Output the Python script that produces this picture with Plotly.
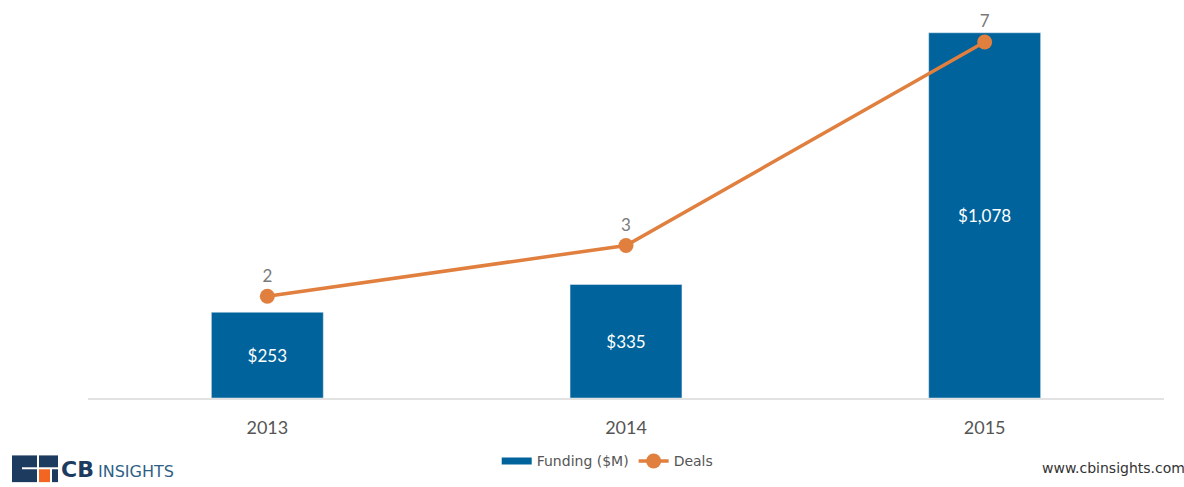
import plotly.graph_objects as go

# Chart data
years = ["2013", "2014", "2015"]
funding = [253, 335, 1078]          # $M
deals = [2, 3, 7]
funding_labels = ["$253", "$335", "$1,078"]

BLUE = "#00639b"
ORANGE = "#e07f3e"
W, H = 1184, 487
ML, MR, MT, MB = 88, 20, 10, 85
PW, PH = W - ML - MR, H - MT - MB


def px(x):
    return (x - ML) / PW


def py(y):
    return (H - y - MB) / PH


fig = go.Figure()

fig.add_trace(go.Bar(
    x=years, y=funding, name="Funding ($M)", marker_color=BLUE,
    text=funding_labels, textposition="inside", insidetextanchor="middle",
    textfont=dict(color="white", size=17, family="Lato"),
    showlegend=False, hoverinfo="skip",
))

# legend swatch for the funding series
fig.add_trace(go.Scatter(
    x=[None], y=[None], mode="lines", name="Funding ($M)",
    line=dict(color=BLUE, width=7),
))

fig.add_trace(go.Scatter(
    x=years, y=deals, name="Deals", yaxis="y2",
    mode="lines+markers+text", text=[str(d) for d in deals],
    textposition="top center",
    textfont=dict(color="#7a7a7a", size=17, family="Lato"),
    line=dict(color=ORANGE, width=3.5),
    marker=dict(color=ORANGE, size=15),
))

fig.update_layout(
    width=W, height=H,
    margin=dict(l=ML, r=MR, t=MT, b=MB),
    plot_bgcolor="white", paper_bgcolor="white",
    bargap=0.688,
    showlegend=True,
    legend=dict(orientation="h", x=0.483, xanchor="center", y=py(466), yanchor="middle",
                font=dict(family="DejaVu Sans", size=14, color="#555555"),
                itemwidth=30, tracegroupgap=0),
    xaxis=dict(showgrid=False, showline=True, linecolor="#e2e2e2", linewidth=2,
               ticks="", tickfont=dict(family="Lato", size=18, color="#555555"),
               ticklabelstandoff=12),
    yaxis=dict(range=[0, 1145.2], visible=False, showgrid=False),
    yaxis2=dict(range=[0, 7.63], visible=False, overlaying="y", showgrid=False),
)

# CB Insights logo mark
navy = "#1d3b5e"
shapes = [
    dict(type="rect", x0=px(12), x1=px(37), y0=py(487), y1=py(460), fillcolor=navy, line_width=0),
    dict(type="rect", x0=px(39), x1=px(58), y0=py(472), y1=py(460), fillcolor=navy, line_width=0),
    dict(type="rect", x0=px(39), x1=px(50), y0=py(487), y1=py(474), fillcolor="#f26522", line_width=0),
    dict(type="rect", x0=px(52), x1=px(58), y0=py(487), y1=py(474), fillcolor=navy, line_width=0),
    dict(type="rect", x0=px(22), x1=px(37), y0=py(474), y1=py(472), fillcolor="white", line_width=0),
]
for s in shapes:
    s.update(xref="paper", yref="paper", layer="above")
fig.update_layout(shapes=shapes)

fig.add_annotation(x=px(59), y=py(474), xref="paper", yref="paper", xanchor="left", yanchor="middle",
                   text="<b>CB</b>", showarrow=False,
                   font=dict(family="DejaVu Sans", size=22, color=navy))
fig.add_annotation(x=px(96), y=py(476), xref="paper", yref="paper", xanchor="left", yanchor="middle",
                   text="INSIGHTS", showarrow=False,
                   font=dict(family="DejaVu Sans", size=16, color="#2f5f86"))
fig.add_annotation(x=px(1187), y=py(473), xref="paper", yref="paper", xanchor="right", yanchor="middle",
                   text="www.cbinsights.com", showarrow=False,
                   font=dict(family="DejaVu Sans", size=14, color="#333333"))

fig.write_html("out.html")
